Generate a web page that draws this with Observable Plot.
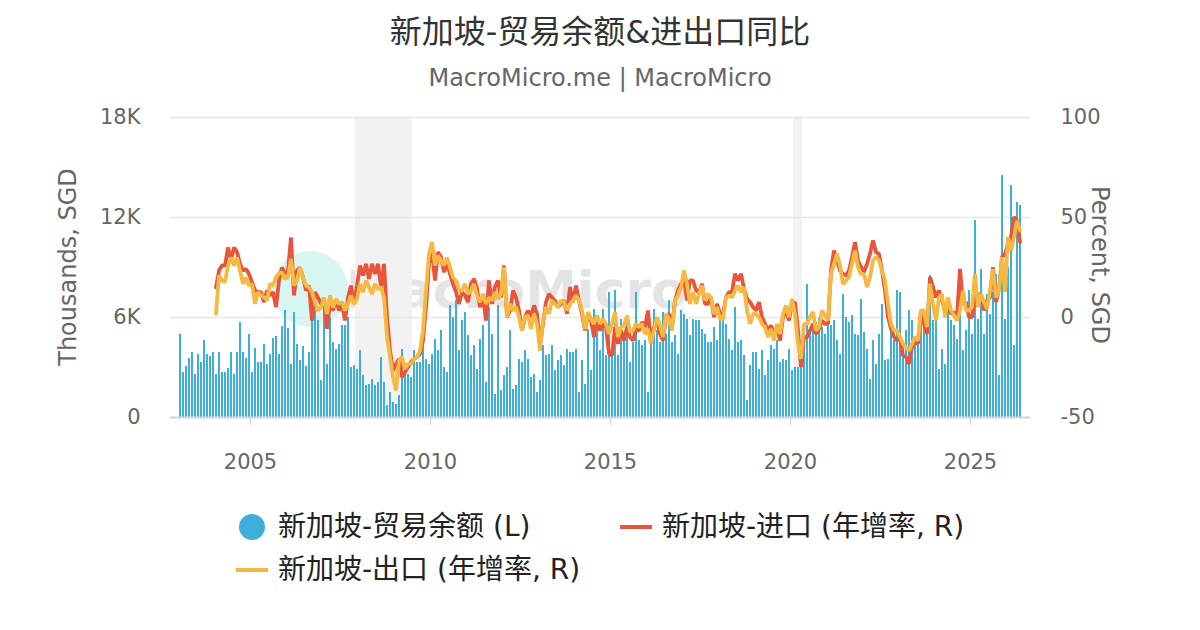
<!DOCTYPE html>
<html><head><meta charset="utf-8">
<script src="https://cdn.jsdelivr.net/npm/d3@7"></script>
<script src="https://cdn.jsdelivr.net/npm/@observablehq/plot@0.6"></script>
<style>
body{margin:0;background:#fff;font-family:"DejaVu Sans","Noto Sans CJK SC",sans-serif;}
#wrap{position:relative;width:1200px;height:630px;overflow:hidden;background:#fff}
#title{position:absolute;left:0;width:1200px;top:12px;text-align:center;font-size:32px;color:#333;line-height:40px}
#sub{position:absolute;left:0;width:1200px;top:63px;text-align:center;font-size:24px;color:#666;line-height:30px}
#chart{position:absolute;left:0;top:100px;z-index:2}
.wm{position:absolute;z-index:1}
.ylab{position:absolute;font-size:24px;color:#666;white-space:nowrap;line-height:30px}
.lg{position:absolute;font-size:28px;color:#222;white-space:nowrap;line-height:36px}
</style></head><body>
<div id="wrap">
  <div id="title">新加坡-贸易余额&amp;进出口同比</div>
  <div id="sub">MacroMicro.me | MacroMicro</div>
  <div class="wm" style="left:272px;top:251px;width:76px;height:76px;border-radius:50%;background:#d8f6f1"></div>
  <div class="wm" style="left:346px;top:258px;font-size:52px;font-weight:bold;color:#e4e4e4;line-height:64px">MacroMicro</div>
  <div id="chart"></div>
  <div class="ylab" style="left:68px;top:267px;transform:translate(-50%,-50%) rotate(-90deg)">Thousands, SGD</div>
  <div class="ylab" style="left:1100px;top:265px;transform:translate(-50%,-50%) rotate(90deg)">Percent, SGD</div>
  <div style="position:absolute;left:239px;top:514px;width:26px;height:26px;border-radius:50%;background:#3eafda"></div>
  <div class="lg" style="left:278px;top:509px">新加坡-贸易余额 (L)</div>
  <div style="position:absolute;left:620px;top:525px;width:32px;height:4px;background:#e8553a"></div>
  <div class="lg" style="left:662px;top:509px">新加坡-进口 (年增率, R)</div>
  <div style="position:absolute;left:236px;top:568px;width:32px;height:4px;background:#f5b942"></div>
  <div class="lg" style="left:278px;top:552px">新加坡-出口 (年增率, R)</div>
</div>
<script>
// Trade balance, thousand SGD (K), monthly from Jan 2003
const balance = [
4.96,2.68,3.06,3.54,3.88,2.58,3.76,3.28,4.62,3.76,3.66,3.88,
2.58,3.88,2.68,2.68,2.92,3.88,2.58,3.88,5.68,3.88,3.52,4.96,
2.68,4.12,3.28,3.28,4.36,3.16,3.76,4.72,4.84,3.76,5.44,6.4,
5.32,3.16,6.28,4.36,3.4,4.24,3.04,3.88,5.8,6.4,5.8,
2.2,7.2,3.2,6.0,4.5,4.1,4.4,5.5,5.5,6.0,3.0,3.1,2.9,4.0,2.5,1.9,2.0,2.3,1.9,2.1,3.6,2.1,0.7,1.5,0.9,0.8,1.3,4.1,2.8,2.6,2.4,4.0,3.3,3.3,4.4,3.5,3.2,3.8,4.7,4.0,5.2,3.0,2.7,6.7,6.0,7.0,4.0,5.8,
6.3,4.9,3.7,4.3,2.9,4.7,5.5,2.1,6.6,5.0,1.4,6.7,1.6,2.5,3.0,5.2,1.7,1.9,3.5,3.3,4.0,3.5,2.4,2.6,1.5,2.2,4.3,3.7,3.8,4.3,2.8,3.4,3.7,3.1,4.1,3.9,3.9,4.1,1.5,3.4,2.0,5.3,2.8,6.5,6.0,4.0,6.5,3.7,7.5,
3.7,7.6,3.7,5.9,4.7,5.7,3.3,4.5,7.5,4.6,4.3,4.6,1.5,5.2,6.5,5.2,4.5,6.3,5.0,7.0,4.5,4.9,3.8,6.4,6.2,5.9,4.9,5.9,5.8,5.8,5.3,5.0,4.5,4.5,5.4,4.6,6.4,6.4,5.6,4.7,4.0,6.6,4.5,4.6,3.7,1.0,3.1,3.9,
3.9,2.9,4.0,2.5,3.4,4.3,4.1,4.6,3.3,3.5,3.4,4.1,2.8,3.0,3.0,4.6,5.1,8.0,5.2,5.3,5.7,6.0,5.4,5.0,6.1,5.5,5.8,4.6,3.8,7.4,6.0,5.7,6.1,5.0,4.9,7.1,5.1,4.1,2.3,4.6,3.2,5.0,6.8,3.4,3.5,5.2,4.6,7.6,
7.5,3.6,5.2,6.4,5.8,4.6,4.6,5.9,5.5,5.3,8.5,5.8,5.9,2.9,4.1,3.2,6.4,5.8,5.5,4.7,6.1,4.0,5.2,7.6,5.0,11.8,5.9,8.9,5.0,7.4,6.2,7.5,8.6,2.5,14.5,5.9,9.0,13.9,4.3,12.9,12.7
];
// Imports YoY %, monthly from Jan 2004
const imports = [
15,23.5,26,26,35,29,35,32.7,26.8,23.5,24.3,21.8,17.7,13.5,12.7,12.7,7.7,13.5,11,12.7,5.2,18.5,25,21.8,23.5,40,11,23.5,25,20,13.5,16,-1.5,12.7,10,
6.8,7.7,-5.7,7.7,3.5,8.5,3.5,6.8,-1.5,10,16,6.8,16,26,21,26.8,19.3,26.8,21.8,26.8,15.2,26.8,0.2,-16.5,-26.5,-23.2,-20.7,-29.8,-27.3,-24.8,-22.3,-20.7,-19.8,-18.2,-11.5,5.2,26.8,33.5,18.5,32.7,30.2,22.7,26.8,21.8,16.8,12.7,6.8,12.7,11,
7.7,16.8,19.3,14.3,5.2,10,-1.5,18.5,6.8,15.2,18.5,10,26,0.2,3.5,13.5,10,3.5,-6.5,0.2,3.5,0.2,6,1.8,-13.2,-3.2,7.7,11.8,10,8.5,5.2,6.8,8.5,1.8,15.2,7.7,16,8.5,1.8,-6.5,1.8,-1.5,-9.8,0.2,-6.5,-3.2,-4.8,-18.2,
-19,-4.8,-13.2,-6.5,-11.5,-4.8,-9.8,-11.5,-5.7,-6.5,-2.3,-4.8,3.5,-12.3,-4.8,-1.5,-8.2,-11.5,0.2,1.8,-4.8,8.5,13.5,16.8,19.3,8.5,18.5,18.5,13.5,12.7,16.8,6.8,6.8,10,0.2,6.8,1.8,1.8,10,12.7,12.7,21.8,18.5,21.8,14.3,9.3,7.7,5.2,
3.5,7.7,0.2,-3.2,-6.5,-4,-8.2,-4.8,-11.5,0.2,3.5,-1.5,6.8,7.7,-6.5,-24.8,-9.8,-9.8,-6.5,-3.2,-8.2,-5.7,-1.5,-3.2,-3.2,23.5,33.5,28.5,23.5,21.8,21,23.5,30.2,37.7,28.5,25.2,22.7,26.8,31.8,38.5,32.7,31.8,23.5,13.5,0.2,-5.7,-9.8,-11.5,
-9.8,-19,-19.8,-23.2,-14.8,-11.5,-13.2,3.5,-3.2,-8.2,20.2,15.2,10,13.5,8.5,3.5,6.8,1.8,2.7,0.2,24.3,6.8,7.7,0.2,0.2,10,11.8,11,3.5,8.5,10,25.2,7.7,14.3,30.2,31.8,36.8,40.2,50.2,48.5,37.7
];
// Exports YoY %, monthly from Jan 2004
const exportsYoY = [
1.8,21,18.5,17.7,26,30,26,30,23.5,16.8,20,16,16.8,6.8,12.7,11,10.2,8.5,16.8,16,20,21.8,22.7,19.3,20,29.3,16,18.5,25,20,16,15,12.7,7.7,3.5,
5,10,1.8,11,5,9.3,6.8,7.7,3.5,6.8,11,6.8,9.3,16.8,12.7,18.5,15.2,11.8,16.8,14.3,15.2,10,-9.8,-19.8,-29.8,-36.5,-21.5,-19.8,-25.7,-23.2,-23.2,-20.7,-19.8,-16.5,-6.5,13.5,31.8,37.7,26,31,28.5,26,30,25.2,20,18.5,13.5,13.5,16.8,
11.8,13.5,16.8,11,7.7,11.8,6.8,10,8.5,12.7,9.3,11.8,25.2,0.2,6.8,3.5,5.2,0.2,-6.5,0.2,1,-5.7,1.8,-3.2,-16.5,-1.5,5.2,1.8,8.5,6.8,5.2,8.5,7.7,3.5,6.8,8.5,11,8.5,3.5,-5.7,2.7,-0.7,-3.2,1,-3.2,-0.7,-3.2,-8.2,
-3.2,2.7,-9.8,-4.8,-4,1,-7.3,-6.5,-3.2,-4.8,-3.2,-8.2,-5.7,-13.2,-6.5,0.2,-4,-9.8,1.8,-0.7,-6.5,8.5,11,15.2,23.5,16.8,6.8,12.7,6.8,11.8,16,8.5,11.8,10,1.8,5.2,-0.7,-0.7,10,11,10,13.5,16,12.7,15.2,3.5,-3.2,1.8,
1.8,0.2,-3.2,-4.8,-9.8,-5.7,-11.5,-3.2,-8.2,1.8,6,0.2,9.3,1.8,-13.2,-20.7,-3.2,-3.2,0.2,2.7,-6.5,-4.8,3.5,1,-1.5,21.8,26.8,31.8,26,16.8,18.5,20.2,26.8,33.5,25.2,21.8,21.8,15.2,20.2,28.5,30.2,28.5,23.5,18.5,6.8,-3.2,-6.5,-6.5,
-9.8,-13.2,-14.8,-16.5,-13.2,-9.8,-11.5,3.5,3.5,-4.8,16.8,6.8,-1.5,10,11.8,0.2,10,3.5,1,-1.5,3.5,13.5,3.5,3.5,5.2,21.8,5.2,11.8,7.7,4.3,13.5,24.3,10,13.5,30.2,12.7,40.2,33.5,40.2,48.5,43.5
];
const balanceStart = 2003;
const lineStart = 2004;
const yearTicks = [2005, 2010, 2015, 2020, 2025];
const leftTicks = [0, 6, 12, 18];
const rightTicks = [-50, 0, 50, 100];
const recessions = [[2007 + 11/12, 2009.5], [2020 + 1/12, 2020 + 4/12]];

const leftMax = 18, rMin = -50, rMax = 100;
const pctToK = p => (p - rMin) * leftMax / (rMax - rMin);
const kToPct = k => k * (rMax - rMin) / leftMax + rMin;

const balData = balance.map((v, i) => ({t: balanceStart + i / 12, v}));
const impData = imports.map((v, i) => ({t: lineStart + (i + 0.5) / 12, v: pctToK(v)}));
const expData = exportsYoY.map((v, i) => ({t: lineStart + (i + 0.5) / 12, v: pctToK(v)}));
const recData = recessions.map(([a, b]) => ({a, b}));

const chart = Plot.plot({
  width: 1200,
  height: 380,
  marginTop: 17,
  marginBottom: 63,
  marginLeft: 170,
  marginRight: 170,
  style: {fontFamily: '"DejaVu Sans","Noto Sans CJK SC",sans-serif', fontSize: "21px", color: "#666", background: "transparent"},
  x: {domain: [2005 - 80/36, 2005 + 780/36]},
  y: {domain: [0, leftMax]},
  marks: [
    Plot.rect(recData, {x1: "a", x2: "b", y1: 0, y2: leftMax, fill: "#f2f2f2"}),
    Plot.ruleY(leftTicks, {stroke: "#e6e6e6", strokeWidth: 1.5}),
    Plot.rectY(balData, {x1: "t", x2: d => d.t + 1/12, y: "v", fill: "#3eafda", insetLeft: 0.5, insetRight: 0.5, shapeRendering: "crispEdges"}),
    Plot.ruleY([0], {stroke: "#d6d6d6", strokeWidth: 2}),
    Plot.line(impData, {x: "t", y: "v", stroke: "#e8553a", strokeWidth: 3.8, strokeLinejoin: "miter"}),
    Plot.line(expData, {x: "t", y: "v", stroke: "#f5b942", strokeWidth: 3.8, strokeLinejoin: "miter"}),
    Plot.axisY(leftTicks, {anchor: "left", tickSize: 0, tickPadding: 30, label: null, fill: "#666",
      tickFormat: d => d === 0 ? "0" : d + "K"}),
    Plot.axisY(rightTicks.map(pctToK), {anchor: "right", tickSize: 0, tickPadding: 30, label: null, fill: "#666",
      tickFormat: d => String(Math.round(kToPct(d)))}),
    Plot.axisX(yearTicks, {tickSize: 8, tickPadding: 29, label: null, stroke: "#d6d6d6", fill: "#666",
      tickFormat: d => String(d)})
  ]
});
document.getElementById("chart").appendChild(chart);
</script>
</body></html>
